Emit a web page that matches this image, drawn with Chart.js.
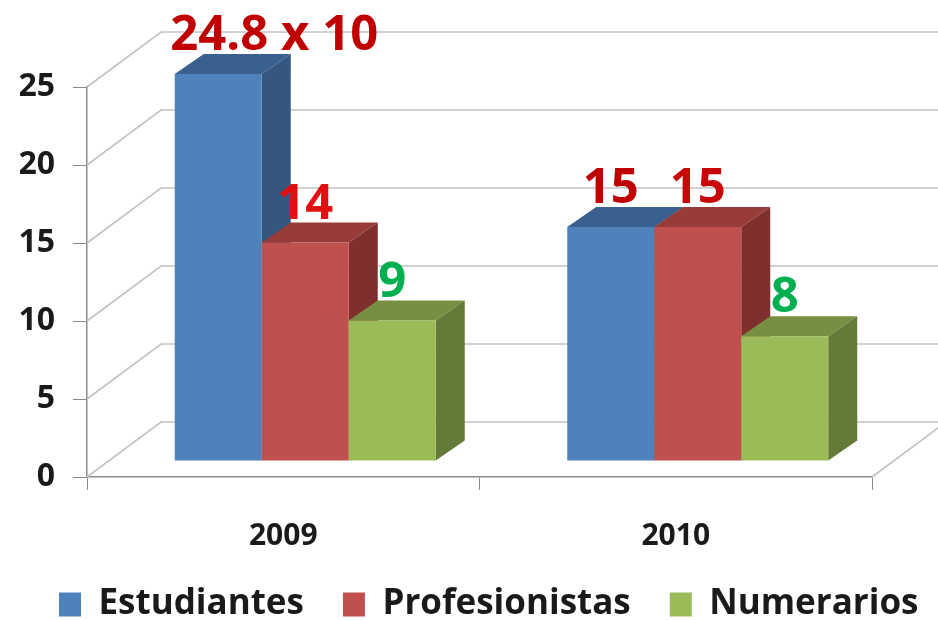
<!DOCTYPE html>
<html><head><meta charset="utf-8">
<style>html,body{margin:0;padding:0;background:#fff}#w{width:938px;height:620px}canvas{filter:blur(.5px)}</style>
<script src="https://cdn.jsdelivr.net/npm/chart.js@4/dist/chart.umd.min.js"></script>
</head><body><div id="w"><canvas id="c"></canvas></div>
<script>
const categories = ['2009', '2010'];
const estudiantes = [24.8, 15];
const profesionistas = [14, 15];
const numerarios = [9, 8];
const estudiantesLabels = ['24.8 x 10', '15'];
const profesionistasLabels = ['14', '15'];
const numerariosLabels = ['9', '8'];
const yTicks = [0, 5, 10, 15, 20, 25];

const FONT = '"Open Sans", sans-serif';
const BAR_SHIFT = {x: 22, y: -16};
const WALL = {x: 74, y: -55};
const DEPTH = {x: 29, y: -20};
const AXIS = '#8a8a8a', GRID = '#c2c2c2';

const mk = (label, data, texts, front, side, top, txt) => ({
  label, data, texts, backgroundColor: front, side, top, txt,
  borderWidth: 0, clip: false, categoryPercentage: 0.665, barPercentage: 1
});

const scene3d = {
  id: 'scene3d',
  beforeLayout(chart) {
    const lg = chart.legend;
    if (!lg._fitFixed) {
      const fit = lg.fit;
      lg.fit = function () { this.maxWidth = 1100; fit.call(this); this.height = 72; };
      lg._fitFixed = true;
    }
  },
  afterLayout(chart) { chart.legend.right = 1100; },
  beforeDatasetDraw() { return false; },
  beforeDatasetsDraw(chart) {
    const {ctx, scales: {y}, chartArea: a} = chart;
    ctx.save();
    ctx.strokeStyle = GRID; ctx.lineWidth = 1.6;
    yTicks.forEach(v => {
      const py = y.getPixelForValue(v);
      ctx.beginPath();
      ctx.moveTo(a.left, py);
      ctx.lineTo(a.left + WALL.x, py + WALL.y);
      ctx.lineTo(chart.width + 2, py + WALL.y);
      ctx.stroke();
    });
    ctx.beginPath();
    ctx.moveTo(a.right, a.bottom);
    ctx.lineTo(a.right + WALL.x, a.bottom + WALL.y);
    ctx.stroke();
    ctx.restore();
  },
  afterDatasetsDraw(chart) {
    const {ctx} = chart;
    ctx.save();
    ctx.translate(BAR_SHIFT.x, BAR_SHIFT.y);
    chart.data.datasets.forEach((ds, i) => {
      const meta = chart.getDatasetMeta(i);
      meta.data.forEach(b => {
        const l = b.x - b.width / 2, r = b.x + b.width / 2, t = b.y, bm = b.base;
        ctx.fillStyle = ds.top;
        ctx.beginPath();
        ctx.moveTo(l, t); ctx.lineTo(l + DEPTH.x, t + DEPTH.y);
        ctx.lineTo(r + DEPTH.x, t + DEPTH.y); ctx.lineTo(r, t);
        ctx.closePath(); ctx.fill();
        ctx.fillStyle = ds.side;
        ctx.beginPath();
        ctx.moveTo(r, t); ctx.lineTo(r + DEPTH.x, t + DEPTH.y);
        ctx.lineTo(r + DEPTH.x, bm + DEPTH.y); ctx.lineTo(r, bm);
        ctx.closePath(); ctx.fill();
      });
      meta.controller.draw();
    });
    ctx.restore();
    ctx.save();
    ctx.font = 'bold 49px ' + FONT;
    ctx.textAlign = 'center'; ctx.textBaseline = 'middle';
    chart.data.datasets.forEach((ds, i) => {
      chart.getDatasetMeta(i).data.forEach((b, j) => {
        const lift = (i === 0 && j === 0) ? 56 : 0;
        ctx.fillStyle = ds.txt[j];
        ctx.fillText(ds.texts[j], b.x + BAR_SHIFT.x + lift, b.y + BAR_SHIFT.y - 38);
      });
    });
    ctx.restore();
  }
};

new Chart(document.getElementById('c'), {
  type: 'bar',
  data: {
    labels: categories,
    datasets: [
      mk('Estudiantes', estudiantes, estudiantesLabels, '#4f81bd', '#35567f', '#3a6090', ['#c00000', '#c00000']),
      mk('Profesionistas', profesionistas, profesionistasLabels, '#c0504d', '#7f2f2d', '#983c39', ['#e01010', '#c80808']),
      mk('Numerarios', numerarios, numerariosLabels, '#9bbb59', '#647a38', '#768f41', ['#00b050', '#00b050'])
    ]
  },
  options: {
    responsive: true, maintainAspectRatio: false, animation: false,
    layout: {padding: {top: 87, right: 66, left: 20, bottom: 0}},
    plugins: {
      tooltip: {enabled: false},
      legend: {
        position: 'bottom', align: 'start',
        labels: {color: '#1a1a1a', boxWidth: 22, boxHeight: 24, padding: 39,
          font: {family: FONT, weight: 'bold', size: 35}}
      }
    },
    scales: {
      x: {
        afterFit(s) { s.height = 71; },
        grid: {drawOnChartArea: false, color: AXIS, tickLength: 13, offset: true},
        border: {color: AXIS, width: 1.5},
        ticks: {color: '#1a1a1a', padding: 28, font: {family: FONT, weight: 'bold', size: 30}}
      },
      y: {
        min: 0, max: 25,
        afterFit(s) { s.width = 67; },
        afterBuildTicks(s) { s.ticks = yTicks.map(value => ({value})); },
        grid: {drawOnChartArea: false, color: AXIS, tickLength: 14},
        border: {color: AXIS, width: 1.5},
        ticks: {color: '#1a1a1a', padding: 18, font: {family: FONT, weight: 'bold', size: 32}}
      }
    }
  },
  plugins: [scene3d]
});
</script></body></html>
